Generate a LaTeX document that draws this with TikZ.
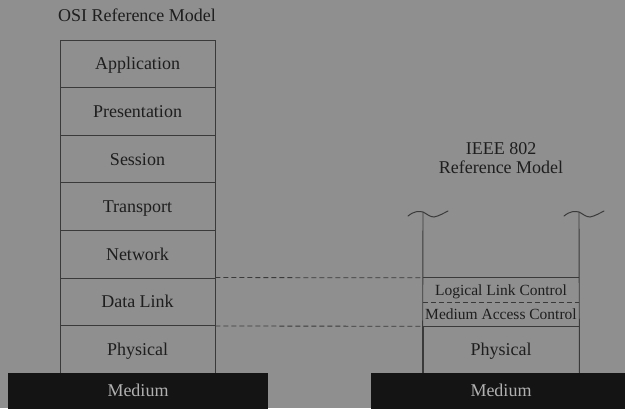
\documentclass[tikz,border=0pt]{standalone}
\usepackage{fontspec}
\setmainfont{Liberation Serif}
\usetikzlibrary{positioning}
\definecolor{bggray}{HTML}{8F8F8F}
\definecolor{linegray}{HTML}{3A3A3A}
\definecolor{inkgray}{HTML}{1E1E1E}
\definecolor{mediumblack}{HTML}{141414}
\definecolor{mediumtext}{HTML}{B0B0B0}
\tikzstyle{layer}=[draw=linegray, rectangle, line width=0.9pt, minimum width=155pt, minimum height=47.6pt, inner sep=0pt, text height=14pt, text depth=2pt, text=inkgray, font=\fontsize{18}{20}\selectfont]
\tikzstyle{sublayer}=[rectangle, minimum width=156pt, minimum height=24pt, inner sep=0pt, text height=12pt, text depth=1pt, text=inkgray, font=\fontsize{15.5}{17}\selectfont]
\tikzstyle{medium}=[rectangle, fill=mediumblack, minimum width=260pt, minimum height=37pt, inner sep=0pt, text height=13pt, text depth=2.5pt, text=mediumtext, font=\fontsize{18}{20}\selectfont]
\tikzstyle{caption}=[align=center, inner sep=0pt, text=inkgray, font=\fontsize{18}{18.5}\selectfont]
\tikzstyle{rail}=[draw=linegray, line width=0.9pt]
\tikzstyle{peer}=[draw=linegray, line width=0.8pt, dash pattern=on 5pt off 3pt]

\begin{document}
\begin{tikzpicture}[x=1pt, y=-1pt]
    \fill[bggray] (0,0) rectangle (625,408);
    \useasboundingbox (0,0) rectangle (625,408);

    % OSI stack
    \node[caption, anchor=base] (osi) at (137,21.7) {OSI Reference Model};
    \begin{scope}[every node/.style={layer}]
        \node (app) at (137.5,63.8) {Application};
        \node (pres) at (137.5,111.4) {Presentation};
        \node (sess) at (137.5,159.0) {Session};
        \node (trans) at (137.5,206.6) {Transport};
        \node (net) at (137.5,254.2) {Network};
        \node (dl) at (137.5,301.8) {Data Link};
        \node (phy) at (137.5,349.4) {Physical};
    \end{scope}

    % IEEE 802 stack
    \node[caption, anchor=north] (ieee) at (501,142.5) {IEEE 802\\Reference Model};
    \begin{scope}[every node/.style={sublayer}]
        \node (llc) at (501,290) {Logical Link Control};
        \node (mac) at (501,314) {Medium Access Control};
    \end{scope}
    \node[layer, minimum width=156pt, minimum height=47.2pt] (phy2) at (501,349.6) {Physical};
    \coordinate (top1) at (423,212);
    \coordinate (top2) at (579,212);

    \begin{scope}[every path/.style={rail}]
        \path (top1) -- (phy2.south west);
        \path (top2) -- (phy2.south east);
        \path (llc.north west) -- (llc.north east);
    \end{scope}
    \path[peer] (llc.south west) -- (llc.south east);

    % broken-off marks
    \foreach \t in {top1,top2}
        \draw[linegray, line width=1pt, line cap=round] ([shift={(-15,4)}]\t)
            .. controls ([shift={(-9,-1)}]\t) and ([shift={(-4,-1)}]\t) .. (\t)
            .. controls ([shift={(4,2)}]\t) and ([shift={(7,5)}]\t) .. ([shift={(11,5)}]\t)
            .. controls ([shift={(16,4)}]\t) and ([shift={(21,1)}]\t) .. ([shift={(25,-1)}]\t);

    % peer layers
    \begin{scope}[every path/.style={peer}]
        \path (dl.north east) -- (llc.north west);
        \path (dl.south east) -- (mac.south west);
    \end{scope}

    % media
    \begin{scope}[every node/.style={medium}]
        \node (med1) at (138,391.5) {Medium};
        \node (med2) at (501,391.5) {Medium};
    \end{scope}
\end{tikzpicture}
\end{document}
